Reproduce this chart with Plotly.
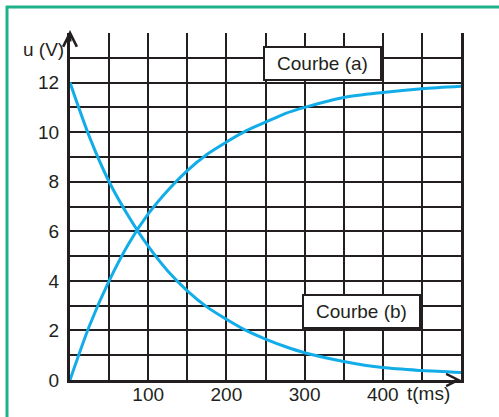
import plotly.graph_objects as go

# Time axis (ms) and the two voltage curves (V)
t_ms = [0, 25, 50, 75, 100, 125, 150, 175, 200, 225, 250, 275, 300, 350, 400, 450, 500]
u_a = [0.0, 2.2, 4.0, 5.5, 6.7, 7.65, 8.45, 9.1, 9.6, 10.05, 10.4, 10.75, 11.0, 11.4, 11.6, 11.75, 11.85]
u_b = [12.0, 9.8, 8.0, 6.6, 5.4, 4.4, 3.6, 2.95, 2.45, 2.0, 1.65, 1.35, 1.1, 0.75, 0.5, 0.38, 0.3]

x_grid = list(range(0, 501, 50))
x_labels = ["" if v in (0, 500) or v % 100 else str(v) for v in x_grid]
y_grid = list(range(0, 15))
y_labels = [str(v) if v % 2 == 0 and v <= 12 else "" for v in y_grid]

CURVE = "#12ade8"
INK = "#231f20"
FONT = dict(family="Liberation Sans, Arial, sans-serif", size=19, color=INK)

fig = go.Figure()
for y in (u_a, u_b):
    fig.add_trace(go.Scatter(
        x=t_ms, y=y, mode="lines",
        line=dict(color=CURVE, width=3, shape="spline", smoothing=0.8),
        showlegend=False, hoverinfo="skip", cliponaxis=False,
    ))

fig.update_xaxes(
    range=[0, 500], tickvals=x_grid, ticktext=x_labels,
    showgrid=True, gridcolor=INK, gridwidth=2.4,
    showline=True, linecolor=INK, linewidth=3.2, mirror=False,
    ticks="", zeroline=False, tickfont=FONT, ticklabelstandoff=-5,
    automargin=False,
)
fig.update_yaxes(
    range=[0, 14], tickvals=y_grid, ticktext=y_labels,
    showgrid=True, gridcolor=INK, gridwidth=2.4,
    showline=True, linecolor=INK, linewidth=3.2, mirror=True,
    ticks="", zeroline=False, tickfont=FONT, ticklabelstandoff=4,
    automargin=False,
)

box = dict(bgcolor="white", bordercolor=INK, borderwidth=2, borderpad=2,
           width=111, height=27, showarrow=False, font=FONT)
fig.add_annotation(x=323, y=12.75, text="Courbe (a)", **box)
fig.add_annotation(x=373, y=2.77, text="Courbe (b)", **box)

# Axis titles
fig.add_annotation(x=0, y=13.35, xref="x", yref="y", text="u (V)", showarrow=False,
                   xanchor="right", xshift=-4, font=FONT)
fig.add_annotation(x=458, y=0, xref="x", yref="y", text="t(ms)", showarrow=False,
                   yanchor="middle", yshift=-13, font=FONT)

# Axis arrowheads
fig.add_annotation(x=0, y=14.12, ax=0, ay=13.6, axref="x", ayref="y", text="",
                   showarrow=True, arrowhead=5, arrowsize=0.9, arrowwidth=3,
                   arrowcolor=INK, standoff=0)
fig.add_annotation(x=500, y=0, ax=490, ay=0, axref="x", ayref="y", text="",
                   showarrow=True, arrowhead=5, arrowsize=1.2, arrowwidth=2,
                   arrowcolor=INK, standoff=0)

# Green frame around the figure
L, R, T, B = 70, 461, 33, 380
def px_x(p):
    return (p - L) / (R - L)
def px_y(p):
    return (B - p) / (B - T)
frame = "#1db28a"
fig.add_shape(type="line", xref="paper", yref="paper",
              x0=px_x(6), x1=px_x(510), y0=px_y(7), y1=px_y(7),
              line=dict(color=frame, width=3))
fig.add_shape(type="line", xref="paper", yref="paper",
              x0=px_x(7), x1=px_x(7), y0=px_y(6), y1=px_y(430),
              line=dict(color=frame, width=3))

fig.update_layout(
    width=499, height=417,
    margin=dict(l=L, r=499 - R, t=T, b=417 - B, autoexpand=False),
    paper_bgcolor="white", plot_bgcolor="white",
    font=FONT,
)

fig.write_html("out.html")
